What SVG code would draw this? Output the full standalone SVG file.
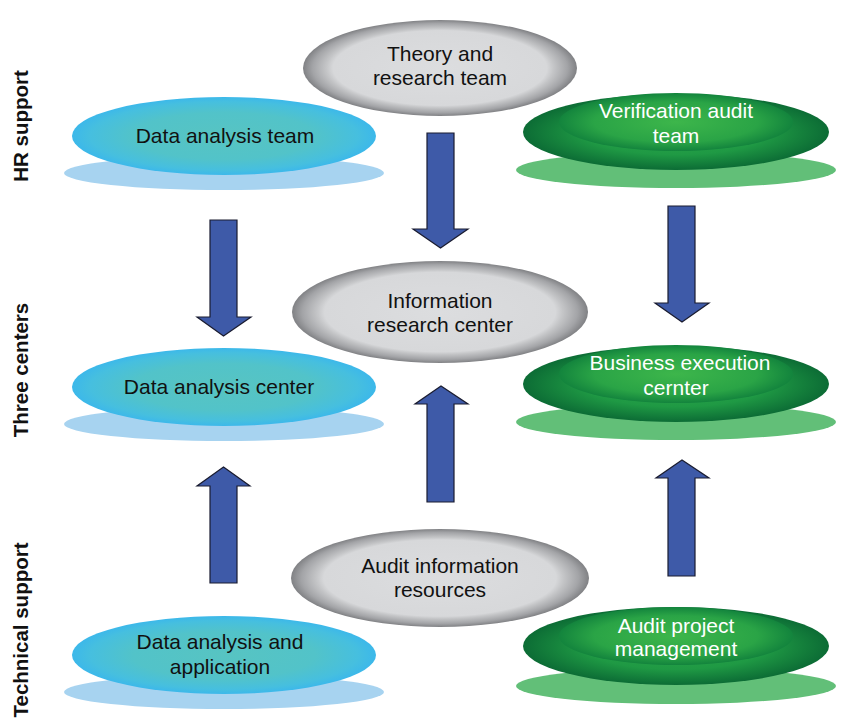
<svg xmlns="http://www.w3.org/2000/svg" width="848" height="724" viewBox="0 0 848 724">
<defs>
<radialGradient id="blueG" cx="50%" cy="50%" r="50%">
<stop offset="0" stop-color="#57c4c2"/>
<stop offset="0.6" stop-color="#52c3c9"/>
<stop offset="0.88" stop-color="#46bfdf"/>
<stop offset="1" stop-color="#3cb8ea"/>
</radialGradient>
<radialGradient id="grayG" cx="50%" cy="50%" r="50%">
<stop offset="0" stop-color="#dcdddf"/>
<stop offset="0.78" stop-color="#d7d8da"/>
<stop offset="0.83" stop-color="#c4c5c7"/>
<stop offset="0.93" stop-color="#a3a4a7"/>
<stop offset="1" stop-color="#808184"/>
</radialGradient>
<radialGradient id="greenO" cx="50%" cy="50%" r="50%">
<stop offset="0" stop-color="#2ca84a"/>
<stop offset="0.6" stop-color="#1f9944"/>
<stop offset="1" stop-color="#0c6c35"/>
</radialGradient>
<radialGradient id="greenI" cx="50%" cy="50%" r="50%">
<stop offset="0" stop-color="#3db64b"/>
<stop offset="0.7" stop-color="#2aa446"/>
<stop offset="1" stop-color="#13843d"/>
</radialGradient>
</defs>
<style>
.bsh{fill:#a7d3f0}
.blue{fill:url(#blueG)}
.gray{fill:url(#grayG)}
.gsh{fill:#62bf78}
.gout{fill:url(#greenO)}
.gin{fill:url(#greenI)}
.t{font-family:"Liberation Sans",Arial,sans-serif;font-size:21px;text-anchor:middle;fill:#111}
.tw{font-family:"Liberation Sans",Arial,sans-serif;font-size:21px;text-anchor:middle;fill:#ffffff}
.side{font-family:"Liberation Sans",Arial,sans-serif;font-size:20.5px;font-weight:bold;text-anchor:middle;fill:#111}
.arr{fill:#3e5aa8;stroke:#1a1c30;stroke-width:1.2;stroke-linejoin:miter}
</style>
<rect width="848" height="724" fill="#ffffff"/>

<g id="labels">
<text class="side" transform="translate(28,126) rotate(-90)">HR support</text>
<text class="side" transform="translate(28,370) rotate(-90)">Three centers</text>
<text class="side" transform="translate(28,630) rotate(-90)">Technical support</text>
</g>

<g id="data-analysis-team">
<ellipse class="bsh" cx="224" cy="173" rx="160" ry="17"/>
<ellipse class="blue" cx="224" cy="136" rx="152" ry="39"/>
<text class="t" x="225" y="143">Data analysis team</text>
</g>
<g id="data-analysis-center">
<ellipse class="bsh" cx="224" cy="424" rx="160" ry="17"/>
<ellipse class="blue" cx="224" cy="387" rx="152" ry="39"/>
<text class="t" x="219" y="394">Data analysis center</text>
</g>
<g id="data-analysis-application">
<ellipse class="bsh" cx="224" cy="692" rx="160" ry="17"/>
<ellipse class="blue" cx="224" cy="655" rx="152" ry="39"/>
<text class="t" x="220" y="649">Data analysis and</text>
<text class="t" x="220" y="674">application</text>
</g>

<g id="theory-research-team">
<ellipse class="gray" cx="440" cy="68" rx="137" ry="48"/>
<text class="t" x="440" y="61">Theory and</text>
<text class="t" x="440" y="85">research team</text>
</g>
<g id="information-research-center">
<ellipse class="gray" cx="440" cy="312" rx="148" ry="51"/>
<text class="t" x="440" y="308">Information</text>
<text class="t" x="440" y="332">research center</text>
</g>
<g id="audit-information-resources">
<ellipse class="gray" cx="440" cy="578" rx="149" ry="49"/>
<text class="t" x="440" y="573">Audit information</text>
<text class="t" x="440" y="597">resources</text>
</g>

<g id="verification-audit-team">
<ellipse class="gsh" cx="676" cy="170" rx="160" ry="18"/>
<ellipse class="gout" cx="676" cy="132" rx="153" ry="38"/>
<ellipse class="gin" cx="676" cy="122" rx="117" ry="29"/>
<text class="tw" x="676" y="118">Verification audit</text>
<text class="tw" x="676" y="143">team</text>
</g>
<g id="business-execution-center">
<ellipse class="gsh" cx="676" cy="422" rx="160" ry="18"/>
<ellipse class="gout" cx="676" cy="384" rx="153" ry="38"/>
<ellipse class="gin" cx="676" cy="374" rx="117" ry="29"/>
<text class="tw" x="680" y="370">Business execution</text>
<text class="tw" x="676" y="395">cernter</text>
</g>
<g id="audit-project-management">
<ellipse class="gsh" cx="676" cy="686" rx="160" ry="18"/>
<ellipse class="gout" cx="676" cy="646" rx="153" ry="39"/>
<ellipse class="gin" cx="676" cy="636" rx="117" ry="29"/>
<text class="tw" x="676" y="633">Audit project</text>
<text class="tw" x="676" y="656">management</text>
</g>

<g id="connectors">
<polygon class="arr" points="210,220 237,220 237,317 251,317 223.5,336 197,317 210,317"/>
<polygon class="arr" points="427,133 454,133 454,229 468,229 440.5,248 413,229 427,229"/>
<polygon class="arr" points="668,206 695,206 695,303 709,303 682,322 655,303 668,303"/>
<polygon class="arr" points="210,583 237,583 237,486 250,486 223.5,467 197,486 210,486"/>
<polygon class="arr" points="427,502 454,502 454,404 468,404 441,386 415,404 427,404"/>
<polygon class="arr" points="668,576 695,576 695,478 709,478 682,460 656,478 668,478"/>
</g>
</svg>
